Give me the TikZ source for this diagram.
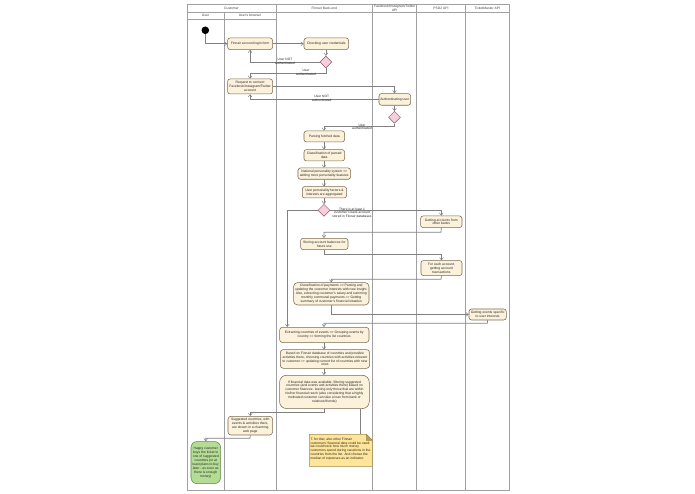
\documentclass[tikz,border=0pt]{standalone}
\usepackage{fontspec}
\setmainfont{Liberation Sans}
\usetikzlibrary{arrows.meta,shapes.geometric}

\definecolor{actfill}{HTML}{FCF2DC}
\definecolor{actline}{HTML}{7A6A4E}
\definecolor{decfill}{HTML}{F9CEDC}
\definecolor{decline}{HTML}{8A5A68}
\definecolor{okfill}{HTML}{B5DC94}
\definecolor{okline}{HTML}{5F8A45}
\definecolor{notefill}{HTML}{FFE599}
\definecolor{noteline}{HTML}{A08A45}
\definecolor{laneline}{HTML}{A0A0A0}
\definecolor{flowline}{HTML}{808080}

\tikzset{
	lane/.style = {draw = laneline, line width = 0.9pt},
	lanetext/.style = {font = \fontsize{3.35}{3.8}\selectfont, align = center, text = black!75, inner sep = 0pt},
	act/.style = {draw = actline, fill = actfill, rounded corners = 2.5pt, line width = 0.55pt, font = \fontsize{3.35}{3.9}\selectfont, align = center, text = black!85, inner sep = 0pt, anchor = north west},
	dec/.style = {draw = decline, fill = decfill, diamond, line width = 0.45pt, inner sep = 0pt, minimum width = 12pt, minimum height = 12pt},
	flow/.style = {draw = flowline, line width = 0.7pt, -{Straight Barb[length = 2.4pt, width = 3.8pt, line width = 0.5pt]}},
	guard/.style = {font = \fontsize{3.25}{3.6}\selectfont, align = center, inner sep = 0pt, text = black!85}
}

\begin{document}
\begin{tikzpicture}[x = 1pt, y = -1pt]
	 \useasboundingbox (0, 0) rectangle (695, 494);
	 \fill[white] (0, 0) rectangle (695, 494);

	 % swimlanes
	 \draw[lane] (187, 4.5) rectangle (509.7, 490);
	 \draw[lane] (187, 12) -- (509.7, 12);
	 \draw[lane] (187, 19.5) -- (276, 19.5);
	 \draw[lane] (224, 12) -- (224, 490);
	 \foreach \x in {276, 372.7, 416.7, 465}
	 \draw[lane] (\x, 4.5) -- (\x, 490);

	 \node[lanetext] (hcustomer) at (231.5, 8.2) {Customer};
	 \node[lanetext] (huser) at (205.5, 15.7) {User};
	 \node[lanetext] (hbrowser) at (250, 15.7) {User's browser};
	 \node[lanetext] (hfinnair) at (324.3, 8.2) {Finnair Back-end};
	 \node[lanetext] (hsocial) at (394.7, 8.2) {Facebook/Instagram/Twitter\\API};
	 \node[lanetext] (hpsd) at (441, 8.2) {PSD2 API};
	 \node[lanetext] (hticket) at (487.3, 8.2) {TicketMaster API};

	 % activities
	 \node[circle, fill = black, minimum size = 7.6pt, inner sep = 0pt] (start) at (205.3, 30.3) {};

	 \node[act, minimum width = 45pt, minimum height = 11.6pt] (login) at (227.3, 37.7) {Finnair account login form};
	 \node[act, minimum width = 44.6pt, minimum height = 11.6pt] (check) at (303.7, 37.7) {Checking user credentials};
	 \node[dec] (dcheck) at (325.9, 62) {};
	 \node[act, minimum width = 45pt, minimum height = 15pt] (request) at (227.3, 78.7) {Request to connect\\Facebook/Instagram/Twitter\\account};
	 \node[act, minimum width = 31.6pt, minimum height = 11.7pt] (auth) at (378.7, 93.3) {Authenticating user};
	 \node[dec] (dauth) at (394.5, 117.3) {};
	 \node[act, minimum width = 40.6pt, minimum height = 11pt] (parse) at (303.7, 130.7) {Parsing fetched data};
	 \node[act, minimum width = 40.6pt, minimum height = 11.4pt] (classify) at (303.7, 149.3) {Classification of parsed\\data};
	 \node[act, minimum width = 52.6pt, minimum height = 11.3pt] (national) at (297.7, 167.7) {National personality system =>\\adding more personality features};
	 \node[act, minimum width = 44.3pt, minimum height = 11.4pt] (factors) at (302, 186.3) {User personality factors \&\\interests are aggregated};
	 \node[dec] (dbank) at (324, 210.3) {};
	 \node[act, minimum width = 41.4pt, minimum height = 11.6pt] (accounts) at (420.3, 215.7) {Getting accounts from\\other banks};
	 \node[act, minimum width = 47.4pt, minimum height = 11.3pt] (store) at (300.3, 238) {Storing account balances for\\future use};
	 \node[act, minimum width = 41pt, minimum height = 15pt] (trans) at (420.7, 260.3) {For each account,\\getting account\\transactions};
	 \node[act, rounded corners = 4pt, minimum width = 75.4pt, minimum height = 22.4pt] (payments) at (293.3, 282.3) {Classification of payments => Parsing and\\updating the customer interests with new insight.\\Also, extracting customer's salary and summing\\monthly communal payments => Getting\\summary of customer's financial situation};
	 \node[act, minimum width = 37.3pt, minimum height = 11pt] (events) at (468.7, 308.7) {Getting events specific\\to user interests};
	 \node[act, rounded corners = 3pt, minimum width = 89.4pt, minimum height = 15.3pt] (extract) at (279.3, 327) {Extracting countries of events => Grouping events by\\country => forming the list countries};
	 \node[act, rounded corners = 3pt, minimum width = 89.3pt, minimum height = 18.7pt] (based) at (280, 349.3) {Based on Finnair database of countries and possible\\activities there, choosing countries with activities relevant\\to customer => updating current list of countries with new\\ones};
	 \node[act, rounded corners = 7pt, minimum width = 89.7pt, minimum height = 33.3pt] (filter) at (279.3, 375) {If financial data was available: filtering suggested\\countries (and events and activities there) based on\\customer finances: leaving only those that are within\\his/her financial reach (also considering that a highly\\motivated customer can take a loan from bank or\\relatives/friends)};
	 \node[act, rounded corners = 3pt, minimum width = 44.6pt, minimum height = 18.7pt] (suggest) at (227.7, 416) {Suggested countries, with\\events \& activities there,\\are shown in a charming\\web page};
	 \node[act, draw = okline, fill = okfill, rounded corners = 6pt, minimum width = 29.6pt, minimum height = 42pt] (happy) at (190.7, 441.3) {Happy customer\\buys the ticket to\\one of suggested\\countries (or at\\least plans to buy\\later - as soon as\\there is enough\\money)};

	 % note with folded corner
	 \coordinate (notetop) at (360.7, 434.3);
	 \draw[draw = noteline, fill = notefill, line width = 0.5pt] (309.3, 434.3) -- (366.3, 434.3) -- (372.3, 440.3) -- (372.3, 466.3) -- (309.3, 466.3) -- cycle;
	 \draw[draw = noteline, fill = notefill!70!black, line width = 0.5pt] (366.3, 434.3) -- (366.3, 440.3) -- (372.3, 440.3) -- cycle;
	 \node[anchor = north west, font = \fontsize{3.35}{3.9}\selectfont, align = left, inner sep = 0pt, text = black!85] (note) at (310.3, 437.5) {T. for that, also other Finnair\\customers' financial data could be used:\\we could track how much money\\customers spend during vacations in the\\countries from the list. And choose the\\median of expenses as an indicator.};

	 % free bends of the connectors
	 \coordinate (b1) at (325.9, 73);
	 \coordinate (b2) at (394.5, 126.7);
	 \coordinate (b3) at (441, 232.3);
	 \coordinate (b4) at (441, 279.3);
	 \coordinate (b5) at (487.3, 323.3);
	 \coordinate (b6) at (324.7, 412);
	 \coordinate (b7) at (250, 438.3);
	 \coordinate (b8) at (324, 254.3);
	 \coordinate (b9) at (287.3, 327);

	 % connectors
	 \draw[flow] (start.south) |- (login.west);
	 \draw[flow] (login.east) -- (check.west);
	 \draw[flow] (check.south -| dcheck) -- (dcheck.north);
	 \draw[flow] (dcheck.west) -| (login.south);
	 \draw[flow] (dcheck.south) -- (b1) -| (request.north);
	 \draw[flow] (request.east) -| (auth.north -| dauth);
	 \draw[flow] (auth.west) -| (request.south);
	 \draw[flow] (auth.south -| dauth) -- (dauth.north);
	 \draw[flow] (dauth.south) -- (b2) -| (parse.north -| dbank);
	 \foreach \a/\b in {parse/classify, classify/national, national/factors, factors/dbank}
	 \draw[flow] (\a.south -| dbank) -- (\b.north -| dbank);
	 \draw[flow] (dbank.east) -| (accounts.north);
	 \draw[flow] (dbank.west) -| (b9);
	 \draw[flow] (accounts.south) -- (b3) -| (store.north -| dbank);
	 \draw[flow] (store.south -| dbank) -- (b8) -| (trans.north);
	 \draw[flow] (trans.south) -- (b4) -| (payments.north);
	 \draw[flow] (payments.south) |- (events.west);
	 \draw[flow] (events.south) -- (b5) -| (extract.north -| dbank);
	 \foreach \a/\b in {extract/based, based/filter}
	 \draw[flow] (\a.south -| dbank) -- (\b.north -| dbank);
	 \draw[flow] (filter.south -| b6) -- (b6) -| (suggest.north);
	 \draw[flow] (suggest.south) -- (b7) -| (happy.north);
	 \draw[draw = flowline, line width = 0.7pt] (filter.south -| notetop) -- (notetop);

	 % guards
	 \node[guard] (g1) at (285, 61.5) {User NOT\\authenticated};
	 \node[guard] (g2) at (306, 72.7) {User\\authenticated};
	 \node[guard] (g3) at (321.7, 98.5) {User NOT\\authenticated};
	 \node[guard] (g4) at (362, 126.7) {User\\authenticated};
	 \node[guard] (g5) at (352, 212.7) {There is at least 1\\customer's bank account\\stored in Finnair databases};
\end{tikzpicture}
\end{document}
